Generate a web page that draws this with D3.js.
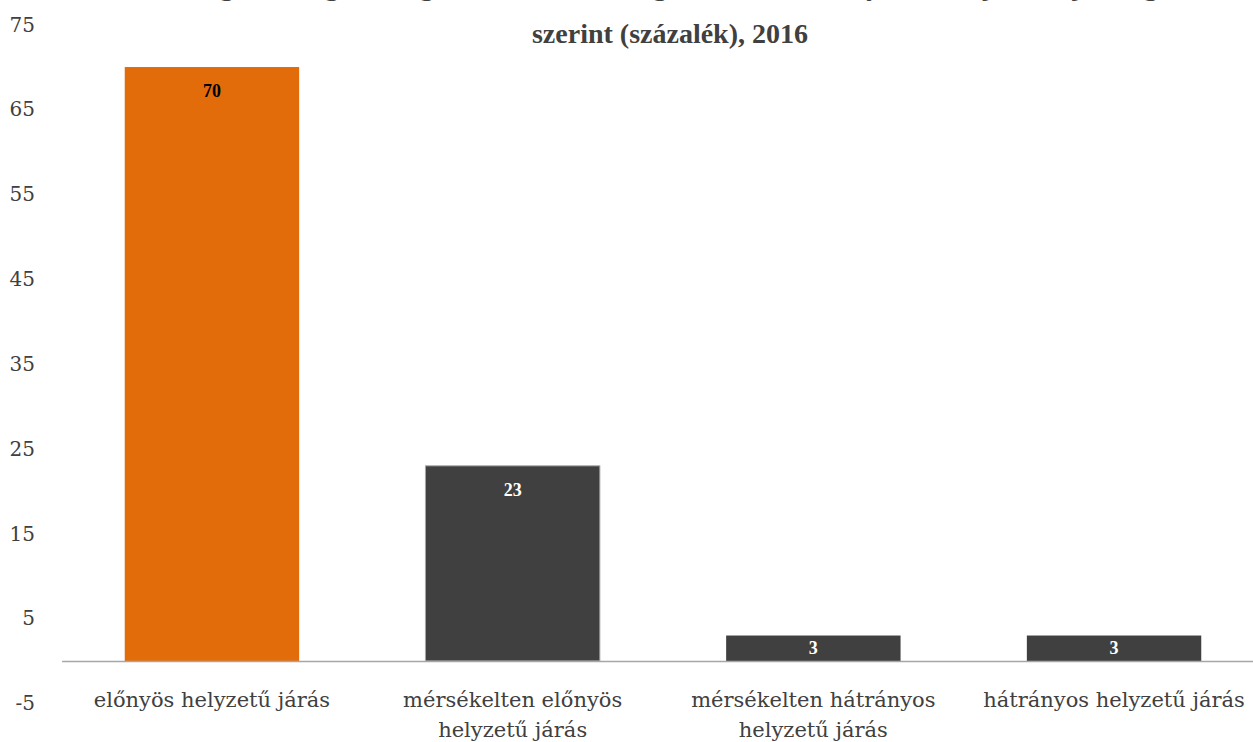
<!DOCTYPE html>
<html>
<head>
<meta charset="utf-8">
<script src="https://cdn.jsdelivr.net/npm/d3@7/dist/d3.min.js"></script>
<style>
body { margin: 0; background: #fff; }
text { font-family: "Palatino Linotype", "Book Antiqua", Palatino, "Liberation Serif", serif; }
.lbl { font-family: "DejaVu Serif", serif; }
</style>
</head>
<body>
<div class="container"></div>
<script>
const wd = 1253
const ht = 742

// data
const categories = ["előnyös helyzetű járás", "mérsékelten előnyös\nhelyzetű járás", "mérsékelten hátrányos\nhelyzetű járás", "hátrányos helyzetű járás"]
const values = [70, 23, 3, 3]
const yTicks = [-5, 5, 15, 25, 35, 45, 55, 65, 75]
const titleLines = ["A regisztrált gazdasági vállalkozások megoszlása a székhely szerinti járás fejlettsége", "szerint (százalék), 2016"]

const svgC = d3.select(".container")
.append("svg")
.attr("width", wd)
.attr("height", ht)

const yScale = d3.scaleLinear()
.domain([-5, 75])
.range([703.4, 24.6])

const xScale = d3.scaleBand()
.domain(categories)
.range([61.6, 1264.4])
.paddingInner(0.42)
.paddingOuter(0.21)

// title (first line is cut off at the top of the picture)
svgC.append("g").selectAll("text")
.data(titleLines)
.join("text")
.attr("x", 670)
.attr("y", (d, i) => -5 + i * 48)
.attr("text-anchor", "middle")
.style("font-size", "28px")
.style("font-weight", "bold")
.style("fill", "#404040")
.text(d => d)

// y axis labels only
const yAxis = svgC.append("g")
.attr("transform", "translate(38,0)")
.call(d3.axisLeft(yScale).tickValues(yTicks).tickSize(0).tickPadding(3).tickFormat(d => String(d)))
yAxis.select(".domain").remove()
yAxis.attr("font-family", null)
yAxis.selectAll("text")
.attr("class", "lbl")
.style("font-size", "20px")
.style("fill", "#404040")

// bars
svgC.append("g").selectAll("rect")
.data(values)
.join("rect")
.attr("x", (d, i) => xScale(categories[i]))
.attr("width", xScale.bandwidth())
.attr("y", d => yScale(d))
.attr("height", d => yScale(0) - yScale(d))
.attr("fill", (d, i) => i == 0 ? "#e36c0a" : "#404040")
.attr("stroke", (d, i) => i == 1 ? "#a6a6a6" : "none")
.attr("stroke-width", 1)

// category axis line
const xAxis = svgC.append("g")
.attr("transform", `translate(0,${yScale(0)})`)
.call(d3.axisBottom(xScale).tickSize(0).tickFormat(""))
xAxis.select(".domain")
.attr("stroke", "#a6a6a6")
.attr("stroke-width", 1.5)

// category labels, wrapped
const catLabels = svgC.append("g").selectAll("text")
.data(categories)
.join("text")
.attr("class", "lbl")
.attr("text-anchor", "middle")
.style("font-size", "21px")
.style("fill", "#404040")
catLabels.each(function(d) {
  const lines = d.split("\n")
  d3.select(this).selectAll("tspan")
  .data(lines)
  .join("tspan")
  .attr("x", xScale(d) + xScale.bandwidth() / 2)
  .attr("y", (l, j) => 707 + j * 30)
  .text(l => l)
})

// value labels
svgC.append("g").selectAll("text")
.data(values)
.join("text")
.attr("x", (d, i) => xScale(categories[i]) + xScale.bandwidth() / 2)
.attr("y", d => {
  const top = yScale(d)
  const mid = (top + yScale(0)) / 2
  return Math.min(top + 24, mid) + 6
})
.attr("text-anchor", "middle")
.style("font-size", "18px")
.style("font-weight", "bold")
.style("fill", (d, i) => i == 0 ? "#000" : "#fff")
.text(d => d)
</script>
</body>
</html>
